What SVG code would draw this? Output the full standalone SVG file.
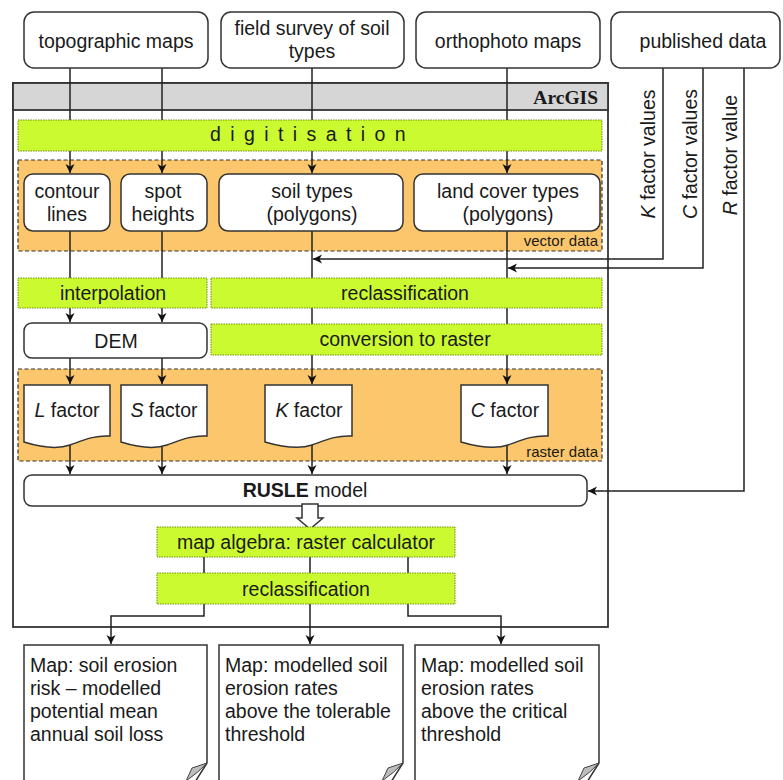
<svg xmlns="http://www.w3.org/2000/svg" width="783" height="780" viewBox="0 0 783 780">
<defs>
<marker id="ah" markerWidth="10" markerHeight="10" refX="9" refY="5" orient="auto" markerUnits="userSpaceOnUse">
<path d="M0,0.5 L9,5 L0,9.5 L2.5,5 Z" fill="#111"/>
</marker>
<style>
text{font-family:"Liberation Sans",Arial,sans-serif;font-size:19.5px;fill:#1a1a1a}
.c{text-anchor:middle}
.box{fill:#fff;stroke:#333;stroke-width:1.5}
.grn{fill:#ccfa30;stroke:#6f8f10;stroke-width:1;stroke-dasharray:1.5 1}
.org{fill:#fbc66c;stroke:#333;stroke-width:1.2;stroke-dasharray:4 2.5}
.ln{fill:none;stroke:#222;stroke-width:1.5}
.doc{fill:#fff;stroke:#333;stroke-width:1.5}
.fold{fill:#bdbdbd;stroke:#444;stroke-width:1}
.sm{font-size:15px}
</style>
</defs>
<rect width="783" height="780" fill="#fff"/>
<g id="arcgis">
<rect x="13" y="83" width="595" height="544" fill="#fff" stroke="#333" stroke-width="1.8"/>
<rect x="13" y="83" width="595" height="27" fill="#d6d6d6" stroke="#333" stroke-width="1.8"/>
<text x="598" y="104" style="font-family:'Liberation Serif','Times New Roman',serif;font-weight:bold;text-anchor:end">ArcGIS</text>
</g>
<g id="vector-data">
<rect class="org" x="18" y="160" width="584" height="91"/>
</g>
<g id="raster-data">
<rect class="org" x="18" y="369" width="584" height="92"/>
</g>
<g id="connectors">
<path class="ln" d="M70,68 V173" marker-end="url(#ah)"/>
<path class="ln" d="M162,68 V173" marker-end="url(#ah)"/>
<path class="ln" d="M312,68 V173" marker-end="url(#ah)"/>
<path class="ln" d="M507,68 V173" marker-end="url(#ah)"/>
<path class="ln" d="M70,231 V278"/>
<path class="ln" d="M162,231 V278"/>
<path class="ln" d="M70,308 V322" marker-end="url(#ah)"/>
<path class="ln" d="M162,308 V322" marker-end="url(#ah)"/>
<path class="ln" d="M312,231 V384" marker-end="url(#ah)"/>
<path class="ln" d="M507,231 V384" marker-end="url(#ah)"/>
<path class="ln" d="M70,358 V384" marker-end="url(#ah)"/>
<path class="ln" d="M162,358 V384" marker-end="url(#ah)"/>
<path class="ln" d="M663,68 V259 H313" marker-end="url(#ah)"/>
<path class="ln" d="M703,68 V268 H508" marker-end="url(#ah)"/>
<path class="ln" d="M744,68 V491 H588" marker-end="url(#ah)"/>
<path class="ln" d="M70,443 V474" marker-end="url(#ah)"/>
<path class="ln" d="M162,443 V474" marker-end="url(#ah)"/>
<path class="ln" d="M312,445 V474" marker-end="url(#ah)"/>
<path class="ln" d="M507,445 V474" marker-end="url(#ah)"/>
<path class="ln" d="M204,557 V573 M310,557 V573 M408,557 V573"/>
<path class="ln" d="M204,604 V616 H111 V644" marker-end="url(#ah)"/>
<path class="ln" d="M310,604 V644" marker-end="url(#ah)"/>
<path class="ln" d="M408,604 V616 H501 V644" marker-end="url(#ah)"/>
<text x="655" y="154" class="c" transform="rotate(-90 655 154)"><tspan font-style="italic">K</tspan> factor values</text>
<text x="697" y="154" class="c" transform="rotate(-90 697 154)"><tspan font-style="italic">C</tspan> factor values</text>
<text x="737" y="155" class="c" transform="rotate(-90 737 155)"><tspan font-style="italic">R</tspan> factor value</text>
</g>
<g id="topographic-maps">
<rect class="box" x="24" y="12" width="184" height="56" rx="10"/>
<text x="116" y="48" class="c">topographic maps</text>
</g>
<g id="field-survey">
<rect class="box" x="221" y="12" width="183" height="56" rx="10"/>
<text x="312" y="35" class="c">field survey of soil</text>
<text x="312" y="58" class="c">types</text>
</g>
<g id="orthophoto-maps">
<rect class="box" x="416" y="12" width="184" height="56" rx="10"/>
<text x="508" y="48" class="c">orthophoto maps</text>
</g>
<g id="published-data">
<rect class="box" x="611" y="12" width="169" height="56" rx="10"/>
<text x="703" y="48" class="c">published data</text>
</g>
<g id="digitisation">
<rect class="grn" x="18" y="120" width="584" height="31"/>
<text x="210" y="141" letter-spacing="9.4">digitisation</text>
</g>
<g id="contour-lines">
<rect class="box" x="24" y="174" width="86" height="57" rx="9"/>
<text x="67" y="198" class="c">contour</text>
<text x="67" y="221" class="c">lines</text>
</g>
<g id="spot-heights">
<rect class="box" x="121" y="174" width="86" height="57" rx="9"/>
<text x="163" y="198" class="c">spot</text>
<text x="163" y="221" class="c">heights</text>
</g>
<g id="soil-types">
<rect class="box" x="219" y="174" width="184" height="57" rx="9"/>
<text x="312" y="198" class="c">soil types</text>
<text x="312" y="221" class="c">(polygons)</text>
</g>
<g id="land-cover-types">
<rect class="box" x="414" y="174" width="186" height="57" rx="9"/>
<text x="508" y="198" class="c">land cover types</text>
<text x="508" y="221" class="c">(polygons)</text>
</g>
<text x="598" y="246" class="sm" text-anchor="end">vector data</text>
<g id="interpolation">
<rect class="grn" x="18" y="278" width="189" height="30"/>
<text x="113" y="300" class="c">interpolation</text>
</g>
<g id="reclassification-1">
<rect class="grn" x="211" y="278" width="391" height="30"/>
<text x="405" y="300" class="c">reclassification</text>
</g>
<g id="dem">
<rect class="box" x="24" y="323" width="183" height="35" rx="8"/>
<text x="116" y="348" class="c">DEM</text>
</g>
<g id="conversion-to-raster">
<rect class="grn" x="211" y="324" width="391" height="31"/>
<text x="405" y="346" class="c">conversion to raster</text>
</g>
<g id="l-factor">
<path class="doc" d="M24,385 H110 V436 C95,435 84,440 70,445 C56,450 40,447 24,442 Z"/>
<text x="67" y="417" class="c"><tspan font-style="italic">L</tspan> factor</text>
</g>
<g id="s-factor">
<path class="doc" d="M121,385 H207 V436 C192,435 181,440 167,445 C153,450 137,447 121,442 Z"/>
<text x="164" y="417" class="c"><tspan font-style="italic">S</tspan> factor</text>
</g>
<g id="k-factor">
<path class="doc" d="M265,385 H352 V436 C337,435 326,440 312,445 C298,450 282,447 265,442 Z"/>
<text x="309" y="417" class="c"><tspan font-style="italic">K</tspan> factor</text>
</g>
<g id="c-factor">
<path class="doc" d="M461,385 H548 V436 C533,435 522,440 508,445 C494,450 478,447 461,442 Z"/>
<text x="505" y="417" class="c"><tspan font-style="italic">C</tspan> factor</text>
</g>
<text x="598" y="457" class="sm" text-anchor="end">raster data</text>
<g id="rusle-model">
<rect class="box" x="24" y="475" width="563" height="31" rx="8"/>
<text x="305" y="497" class="c"><tspan font-weight="bold">RUSLE</tspan> model</text>
</g>
<g id="rusle-arrow">
<path d="M302,504 H318 V518 H323 L310,529 L297,518 H302 Z" fill="#fff" stroke="#333" stroke-width="1.5"/>
</g>
<g id="map-algebra">
<rect class="grn" x="157" y="527" width="298" height="30"/>
<text x="306" y="549" class="c">map algebra: raster calculator</text>
</g>
<g id="reclassification-2">
<rect class="grn" x="157" y="573" width="298" height="31"/>
<text x="306" y="596" class="c">reclassification</text>
</g>
<g id="map-1">
<path class="doc" d="M24,790 V645 H207 V763 L195,782"/>
<path class="fold" d="M207,763 L192,768 L186,781 Q199,772 207,763 Z"/>
<text x="30" y="672">Map: soil erosion</text>
<text x="30" y="695">risk – modelled</text>
<text x="30" y="718">potential mean</text>
<text x="30" y="741">annual soil loss</text>
</g>
<g id="map-2">
<path class="doc" d="M219,790 V645 H403 V763 L391,782"/>
<path class="fold" d="M403,763 L388,768 L382,781 Q395,772 403,763 Z"/>
<text x="225" y="672">Map: modelled soil</text>
<text x="225" y="695">erosion rates</text>
<text x="225" y="718">above the tolerable</text>
<text x="225" y="741">threshold</text>
</g>
<g id="map-3">
<path class="doc" d="M415,790 V645 H599 V763 L587,782"/>
<path class="fold" d="M599,763 L584,768 L578,781 Q591,772 599,763 Z"/>
<text x="421" y="672">Map: modelled soil</text>
<text x="421" y="695">erosion rates</text>
<text x="421" y="718">above the critical</text>
<text x="421" y="741">threshold</text>
</g>
</svg>
